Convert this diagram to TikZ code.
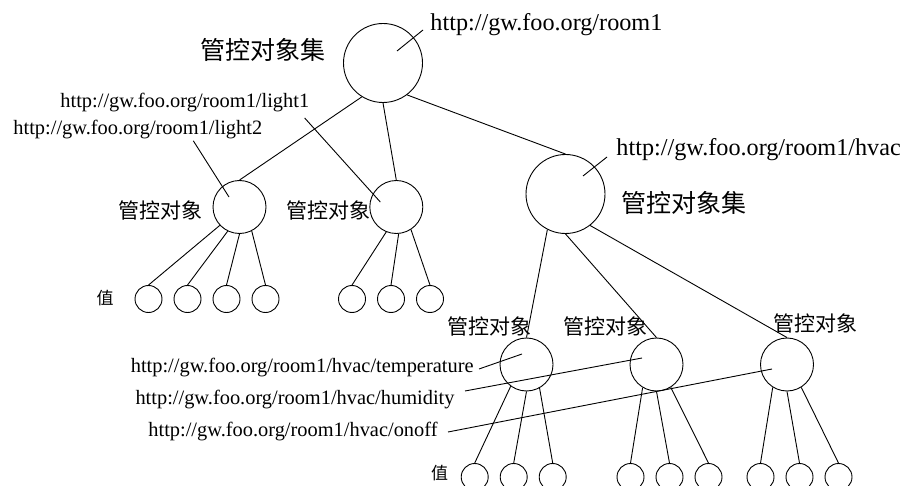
\documentclass[tikz,border=0pt]{standalone}
\usepackage{fontspec}
\setmainfont{Liberation Serif}
\newfontfamily\cjk{Noto Sans CJK SC}
\usetikzlibrary{positioning}

\begin{document}
\begin{tikzpicture}[x=1pt,y=-1pt,line width=0.9pt,node distance=39pt,
  set node/.style={circle,draw,minimum size=79pt,inner sep=0pt},
  obj node/.style={circle,draw,minimum size=53pt,inner sep=0pt},
  val node/.style={circle,draw,minimum size=27pt,inner sep=0pt},
  url/.style={inner sep=0pt,font=\fontsize{20.4}{22}\selectfont},
  big url/.style={inner sep=0pt,font=\fontsize{24.2}{26}\selectfont},
  tag/.style={inner sep=0pt,font=\cjk\fontsize{21}{24}\selectfont},
  big tag/.style={inner sep=0pt,font=\cjk\fontsize{25}{28}\selectfont},
  val tag/.style={inner sep=0pt,font=\cjk\fontsize{17}{20}\selectfont}]
    \clip (0,0) rectangle (907,486);

    % tree
    \node[set node] (room) at (383,63) {};
    \node[obj node] (light1) at (396.3,207) {};
    \node[obj node] (light2) at (239.5,207) {};
    \node[set node] (hvac) at (565.5,194) {};
    \node[obj node] (temp) at (526.5,364.5) {};
    \node[obj node] (humi) at (656.5,364.5) {};
    \node[obj node] (onoff) at (787,364.5) {};

    \node[val node] (a1) at (148.5,299) {};
    \node[val node] (a2) [right of = a1] {};
    \node[val node] (a3) [right of = a2] {};
    \node[val node] (a4) [right of = a3] {};
    \node[val node] (b1) at (352,299) {};
    \node[val node] (b2) [right of = b1] {};
    \node[val node] (b3) [right of = b2] {};
    \node[val node] (t1) at (474.7,477) {};
    \node[val node] (t2) [right of = t1] {};
    \node[val node] (t3) [right of = t2] {};
    \node[val node] (h1) at (630.5,477) {};
    \node[val node] (h2) [right of = h1] {};
    \node[val node] (h3) [right of = h2] {};
    \node[val node] (o1) at (760.5,477) {};
    \node[val node] (o2) [right of = o1] {};
    \node[val node] (o3) [right of = o2] {};

    \path
        (room.238) edge (light2.north)
        (room.south) edge (light1.north)
        (room.307) edge (hvac.north)
        (light2.223) edge (a1.north)
        (light2.244) edge (a2.north)
        (light2.270) edge (a3.north)
        (light2.297) edge (a4.north)
        (light1.248) edge (b1.north)
        (light1.275) edge (b2.north)
        (light1.303) edge (b3.north)
        (hvac.243) edge (temp.north)
        (hvac.south) edge (humi.north)
        (hvac.308) edge (onoff.north)
        (temp.234) edge (t1.north)
        (temp.south) edge (t2.north)
        (temp.299) edge (t3.north)
        (humi.239) edge (h1.north)
        (humi.south) edge (h2.north)
        (humi.302) edge (h3.north)
        (onoff.238) edge (o1.north)
        (onoff.south) edge (o2.north)
        (onoff.302) edge (o3.north)
        ;

    % labels
    \node[big tag] (set1) at (262.5,50) {管控对象集};
    \node[big tag] (set2) at (683.5,203) {管控对象集};
    \node[tag] (obj1) at (160.5,210) {管控对象};
    \node[tag] (obj2) at (328.5,210) {管控对象};
    \node[tag] (obj3) at (489,326) {管控对象};
    \node[tag] (obj4) at (605.5,326) {管控对象};
    \node[tag] (obj5) at (815.5,323) {管控对象};
    \node[val tag] (v1) at (105,298) {值};
    \node[val tag] (v2) at (439.5,473) {值};

    \node[big url, anchor=west] (uroom) at (430,25) {http://gw.foo.org/room1};
    \node[big url, anchor=west] (uhvac) at (616,150) {http://gw.foo.org/room1/hvac};
    \node[url, anchor=west] (ulight1) at (60,103) {http://gw.foo.org/room1/light1};
    \node[url, anchor=west] (ulight2) at (13,130) {http://gw.foo.org/room1/light2};
    \node[url, anchor=east] (utemp) at (474,368) {http://gw.foo.org/room1/hvac/temperature};
    \node[url, anchor=east] (uhumi) at (455,400) {http://gw.foo.org/room1/hvac/humidity};
    \node[url, anchor=east] (uonoff) at (438,432) {http://gw.foo.org/room1/hvac/onoff};

    % pointers
    \coordinate (proom) at ([shift={(14,-12)}]room.center);
    \coordinate (plight1) at ([shift={(-16,-5)}]light1.center);
    \coordinate (plight2) at ([shift={(-10.5,-10)}]light2.center);
    \coordinate (phvac) at ([shift={(17.5,-18)}]hvac.center);
    \coordinate (ptemp) at ([shift={(-4.5,-10.5)}]temp.center);
    \coordinate (phumi) at ([shift={(-14.5,-6.5)}]humi.center);
    \coordinate (ponoff) at ([shift={(-15,4.5)}]onoff.center);

    \draw ([shift={(-7,5)}]uroom.west) -- (proom);
    \draw ([shift={(-9,7)}]uhvac.west) -- (phvac);
    \draw ([shift={(-5,15)}]ulight1.east) -- (plight1);
    \draw ([shift={(55.5,1)}]ulight2.south) -- (plight2);
    \draw ([shift={(5,1)}]utemp.east) -- (ptemp);
    \draw ([shift={(10,-9)}]uhumi.east) -- (phumi);
    \draw ([shift={(10,0)}]uonoff.east) -- (ponoff);
\end{tikzpicture}
\end{document}
